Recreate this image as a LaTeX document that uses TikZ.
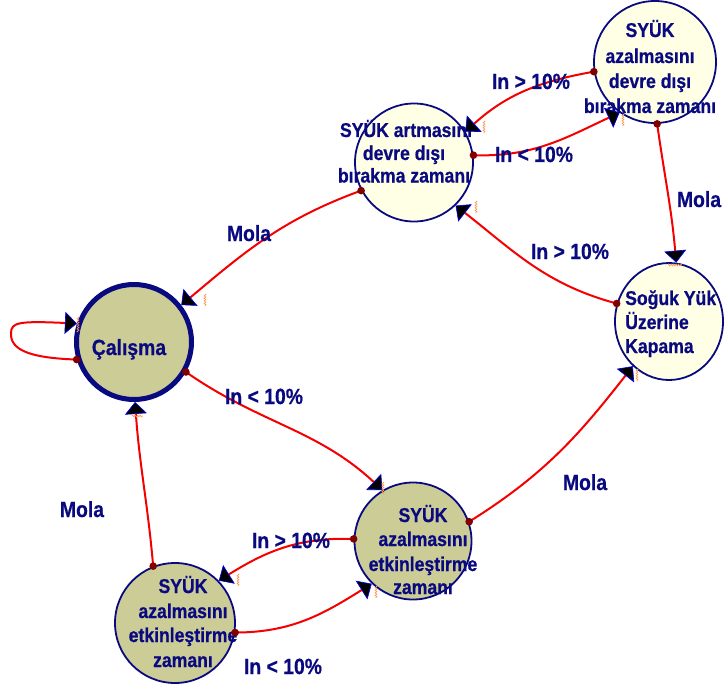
\documentclass[tikz,border=0pt]{standalone}
\usepackage{fontspec}
\setmainfont{Liberation Sans}[FakeStretch=0.88, BoldFeatures={FakeBold=0.6}]
\usetikzlibrary{arrows.meta,shapes.geometric,decorations.pathmorphing}

\definecolor{navy}{RGB}{10,10,128}
\definecolor{cream}{RGB}{255,255,230}
\definecolor{olive}{RGB}{203,204,150}
\definecolor{wire}{RGB}{245,0,0}
\definecolor{dotred}{RGB}{128,0,0}
\definecolor{zig}{RGB}{255,150,80}

\tikzset{
  state/.style={circle, draw=navy, line width=1.8pt, inner sep=0pt, minimum size=118pt},
  txt/.style={text=navy, font=\bfseries\fontsize{20}{24}\selectfont, inner sep=0pt, anchor=base},
  lbl/.style={text=navy, font=\bfseries\fontsize{22}{26}\selectfont, inner sep=0pt, anchor=base},
  edge/.style={draw=wire, line width=2pt,
    -{Triangle[color=blue, fill=black, line width=0.6pt, length=12pt, width=22pt]}},
  zz/.style={draw=zig, line width=0.6pt, decorate,
    decoration={zigzag, segment length=2.5pt, amplitude=1pt}},
  srcdot/.style={fill=dotred}
}

\begin{document}
\begin{tikzpicture}[x=1pt, y=-1pt]
\useasboundingbox (0,0) rectangle (725,687);

% states
\node[state, fill=olive, line width=5pt, minimum size=115pt] (cal) at (134,342) {};
\node[state, fill=cream] (art) at (414,162.5) {};
\node[state, fill=cream, minimum size=122pt] (tr) at (655,62) {};
\node[ellipse, draw=navy, line width=1.8pt, fill=cream, inner sep=0pt,
      minimum width=108pt, minimum height=117pt] (sog) at (669,321.5) {};
\node[state, fill=olive, minimum size=117pt] (mid) at (413,541) {};
\node[state, fill=olive, minimum size=120pt] (bl) at (175,623) {};

% state texts
\node[txt, font=\bfseries\fontsize{22}{26}\selectfont] (calT) at (129,355) {Çalışma};

\node[txt] (artT1) at (406,137) {SYÜK artmasını};
\node[txt] (artT2) at (404,160) {devre dışı};
\node[txt] (artT3) at (404,182.5) {bırakma zamanı};

\node[txt] (trT1) at (650,37) {SYÜK};
\node[txt] (trT2) at (650,63) {azalmasını};
\node[txt] (trT3) at (650,88) {devre dışı};
\node[txt] (trT4) at (650,113) {bırakma zamanı};

\node[txt, anchor=base west] (sogT1) at (625,305) {Soğuk Yük};
\node[txt, anchor=base west] (sogT2) at (625,329) {Üzerine};
\node[txt, anchor=base west] (sogT3) at (625,353) {Kapama};

\node[txt] (midT1) at (423,522) {SYÜK};
\node[txt] (midT2) at (423,546) {azalmasını};
\node[txt] (midT3) at (423,571) {etkinleştirme};
\node[txt] (midT4) at (423,594) {zamanı};

\node[txt] (blT1) at (183,593) {SYÜK};
\node[txt] (blT2) at (183,618) {azalmasını};
\node[txt] (blT3) at (183,642) {etkinleştirme};
\node[txt] (blT4) at (183,667) {zamanı};

% transitions
\draw[edge] (cal.197) .. controls (30,358) and (10,350) .. (11,333)
            .. controls (11,322) and (20,321) .. (cal.162);
\draw[edge] (art.208) to[out=200, in=40] (cal.38);
\draw[edge] (art.7) to[out=-2, in=205] (tr.235);
\draw[edge] (tr.189) to[out=190, in=42] (art.31);
\draw[edge] (tr.-88) to[out=-82, in=95] (sog.83);
\draw[edge] (sog.161) to[out=165, in=-38] (art.-46);
\draw[edge] (cal.-30) to[out=-35, in=137] (mid.121);
\draw[edge] (mid.19) to[out=32, in=-128] (sog.-129);
\draw[edge] (mid.178) to[out=178, in=32] (bl.44);
\draw[edge] (bl.-9) to[out=0, in=-148] (mid.-134);
\draw[edge] (bl.111) to[out=95, in=-86] (cal.-89);

% source dots
\foreach \p in {cal.197, art.208, art.7, tr.189, tr.-88, sog.161, cal.-30,
                mid.19, mid.178, bl.-9, bl.111}
  \fill[srcdot] (\p) circle (3.8pt);

% small marks beside the arrow heads
\draw[zz] (78,317) -- (78,332);
\draw[zz] (205,294) -- (205,306);
\draw[zz] (132,416) -- (143,416);
\draw[zz] (484,121) -- (484,133);
\draw[zz] (623,114) -- (623,126);
\draw[zz] (476,201) -- (476,213);
\draw[zz] (668,265) -- (682,265);
\draw[zz] (637,369) -- (637,381);
\draw[zz] (383,482) -- (383,494);
\draw[zz] (376,586) -- (376,598);
\draw[zz] (238,574) -- (238,586);

% transition labels
\node[lbl] (l1) at (249,241) {Mola};
\node[lbl] (l2) at (531,89) {In > 10\%};
\node[lbl] (l3) at (534,162) {In < 10\%};
\node[lbl] (l4) at (699,207) {Mola};
\node[lbl] (l5) at (570,259) {In > 10\%};
\node[lbl] (l6) at (264,404) {In < 10\%};
\node[lbl] (l7) at (585,490) {Mola};
\node[lbl] (l8) at (82,517) {Mola};
\node[lbl] (l9) at (291,548) {In > 10\%};
\node[lbl] (l10) at (283,674) {In < 10\%};
\end{tikzpicture}
\end{document}
